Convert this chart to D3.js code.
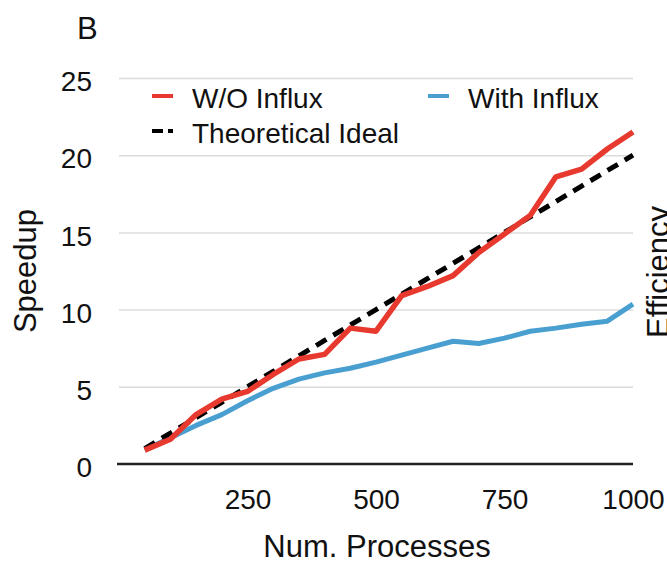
<!DOCTYPE html>
<html>
<head>
<meta charset="utf-8">
<script src="https://cdn.jsdelivr.net/npm/d3@7"></script>
<style>
  body { margin: 0; background: #fff; }
  text { font-family: Helvetica, "Liberation Sans", Arial, sans-serif; fill: #111; }
</style>
</head>
<body>
<script>
// datos
var procesos = [50,100,150,200,250,300,350,400,450,500,550,600,650,700,750,800,850,900,950,1000];
var sin_influx = [0.9,1.6,3.2,4.2,4.7,5.8,6.8,7.1,8.8,8.6,10.9,11.5,12.2,13.7,14.9,16.1,18.6,19.1,20.4,21.5];
var con_influx = [0.9,1.7,2.5,3.2,4.1,4.9,5.5,5.9,6.2,6.6,7.05,7.5,7.95,7.8,8.15,8.6,8.8,9.05,9.25,10.35];
var ideal = [1,2,3,4,5,6,7,8,9,10,11,12,13,14,15,16,17,18,19,20];
var ticks_x = [250,500,750,1000];
var ticks_y = [0,5,10,15,20,25];

var margin = {top: 78, right: 34, bottom: 101, left: 119},
    width = 667 - margin.left - margin.right,
    height = 565 - margin.top - margin.bottom;

var svg = d3.select("body").append("svg")
    .attr("width", 667)
    .attr("height", 565);

var g = svg.append("g").attr("transform", "translate(" + margin.left + "," + margin.top + ")");

var x = d3.scaleLinear().domain([0, 1000]).range([0, width]);
var y = d3.scaleLinear().domain([0, 25]).range([height, 0]);

// lineas de grilla
var grid = g.append("g")
    .call(d3.axisLeft(y).tickValues(ticks_y.slice(1)).tickSize(-width).tickFormat(""));
grid.select(".domain").remove();
grid.selectAll("line").attr("stroke", "#dcdcdc").attr("stroke-width", 1.5);

// etiquetas eje y
var ejeY = g.append("g")
    .call(d3.axisLeft(y).tickValues(ticks_y).tickSize(0).tickPadding(27));
ejeY.select(".domain").remove();
ejeY.selectAll("text").style("font-size", "28px").attr("dy", "0.45em");

// eje x
var ejeX = g.append("g")
    .attr("transform", "translate(0," + height + ")")
    .call(d3.axisBottom(x).tickValues(ticks_x).tickSize(0).tickPadding(25).tickSizeOuter(0).tickFormat(d3.format("d")));
ejeX.select(".domain").attr("stroke", "#222").attr("stroke-width", 2.5).attr("d", "M-2,0H" + width);
ejeX.selectAll("text").style("font-size", "28px");

var linea = function(valores) {
    return d3.line()
        .x(function(d, i) { return x(procesos[i]); })
        .y(function(d) { return y(d); })(valores);
};

g.append("path").attr("d", linea(con_influx))
    .attr("fill", "none").attr("stroke", "#4a9fd1").attr("stroke-width", 5).attr("stroke-linejoin", "round");
g.append("path").attr("d", linea(ideal))
    .attr("fill", "none").attr("stroke", "#000").attr("stroke-width", 5).attr("stroke-dasharray", "12,8");
g.append("path").attr("d", linea(sin_influx))
    .attr("fill", "none").attr("stroke", "#e8392f").attr("stroke-width", 5.5).attr("stroke-linejoin", "round");

// leyenda
var leyenda = [
    {nombre: "W/O Influx", color: "#e8392f", x: 152, y: 108, dash: null},
    {nombre: "With Influx", color: "#4a9fd1", x: 428, y: 108, dash: null},
    {nombre: "Theoretical Ideal", color: "#000", x: 152, y: 143, dash: "11,5"}
];
var items = svg.selectAll(".leyenda").data(leyenda).enter().append("g")
    .attr("class", "leyenda")
    .attr("transform", function(d) { return "translate(" + d.x + "," + d.y + ")"; });
items.append("line")
    .attr("x1", 0).attr("x2", 21).attr("y1", -12).attr("y2", -12)
    .attr("stroke", function(d) { return d.color; })
    .attr("stroke-width", 4)
    .attr("stroke-dasharray", function(d) { return d.dash; });
items.append("text")
    .attr("x", 40)
    .style("font-size", "28px")
    .text(function(d) { return d.nombre; });

// titulos
svg.append("text").attr("x", 377).attr("y", 557).attr("text-anchor", "middle")
    .style("font-size", "31px").text("Num. Processes");
svg.append("text").attr("transform", "translate(36,271) rotate(-90)").attr("text-anchor", "middle")
    .style("font-size", "31px").text("Speedup");
svg.append("text").attr("transform", "translate(669,272) rotate(-90)").attr("text-anchor", "middle")
    .style("font-size", "31px").text("Efficiency");
svg.append("text").attr("x", 77).attr("y", 39)
    .style("font-size", "31px").text("B");
</script>
</body>
</html>
